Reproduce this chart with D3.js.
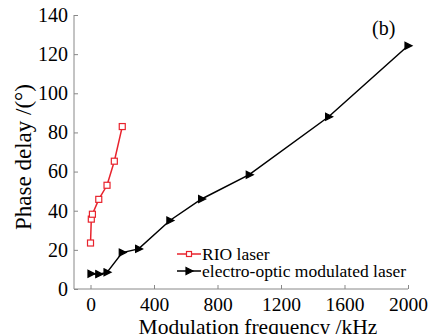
<!DOCTYPE html>
<meta charset="utf-8">
<script src="https://d3js.org/d3.v7.min.js"></script>
<style>
  body { margin: 0; background: #fff; }
  svg text { font-family: "Liberation Serif", "DejaVu Serif", serif !important; fill: #000; }
</style>
<div id="my_dataviz"></div>
<script>

// RIO laser (red squares)
var rioFreq  = [0, 5, 12, 52, 104, 150, 200];
var rioPhase = [23.5, 35.7, 38.2, 45.8, 53, 65.3, 83];

// electro-optic modulated laser (black triangles)
var eoFreq  = [3, 52, 104, 200, 303, 500, 700, 1000, 1500, 2000];
var eoPhase = [7.8, 7.6, 8.5, 18.6, 20.5, 35, 46, 58.4, 88, 124.3];

var xTicks = [0, 400, 800, 1200, 1600, 2000];
var yTicks = [0, 20, 40, 60, 80, 100, 120, 140];

var margin = {top: 15, right: 25, bottom: 45, left: 74},
    width = 435 - margin.left - margin.right,
    height = 334 - margin.top - margin.bottom;

var serif = '"Liberation Serif", "DejaVu Serif", serif';

var svg = d3.select("#my_dataviz")
  .append("svg")
    .attr("width", 435)
    .attr("height", 334)
  .append("g")
    .attr("transform", "translate(" + margin.left + "," + margin.top + ")");

var x = d3.scaleLinear()
  .domain([-104, 2000])
  .range([0, 334]);

var y = d3.scaleLinear()
  .domain([0, 140])
  .range([height, 0]);

// X axis, ticks pointing inward
var xAxis = svg.append("g")
  .attr("transform", "translate(0," + height + ")")
  .call(d3.axisBottom(x).tickValues(xTicks).tickSize(-4).tickPadding(8).tickFormat(d3.format("d")));
xAxis.attr("font-family", serif);
xAxis.select(".domain").attr("stroke", "#888").attr("d", "M0,0H" + x(2000));
xAxis.selectAll(".tick line").attr("stroke", "#888");
xAxis.selectAll("text").style("font-size", "19.5px").style("font-family", serif).attr("dy", "0.72em");

// Y axis
var yAxis = svg.append("g")
  .call(d3.axisLeft(y).tickValues(yTicks).tickSize(-4).tickPadding(6));
yAxis.attr("font-family", serif);
yAxis.select(".domain").attr("stroke", "#888").attr("d", "M0," + y(140) + "V" + height);
yAxis.selectAll(".tick line").attr("stroke", "#888");
yAxis.selectAll("text").style("font-size", "20px").style("font-family", serif);

// axis labels
svg.append("text")
  .attr("text-anchor", "middle")
  .attr("x", 184)
  .attr("y", height + 45)
  .style("font-family", serif)
  .style("font-size", "21.5px")
  .text("Modulation frequency /kHz");

svg.append("text")
  .attr("text-anchor", "middle")
  .attr("transform", "rotate(-90)")
  .attr("x", -142)
  .attr("y", -43)
  .style("font-family", serif)
  .style("font-size", "23px")
  .text("Phase delay /(\u00B0)");

svg.append("text")
  .attr("x", 298)
  .attr("y", 20)
  .style("font-family", serif)
  .style("font-size", "20px")
  .text("(b)");

var line = d3.line()
  .x(function(d) { return x(d[0]); })
  .y(function(d) { return y(d[1]); });

var rio = rioFreq.map(function(f, i) { return [f, rioPhase[i]]; });
var eo = eoFreq.map(function(f, i) { return [f, eoPhase[i]]; });

svg.append("path")
  .datum(eo)
  .attr("fill", "none")
  .attr("stroke", "#000")
  .attr("stroke-width", 1.5)
  .attr("d", line);

svg.append("path")
  .datum(rio)
  .attr("fill", "none")
  .attr("stroke", "#e8232d")
  .attr("stroke-width", 1.5)
  .attr("d", line);

var tri = "M-3,-3.5L4,0L-3,3.5Z";

svg.append("g")
  .selectAll("path")
  .data(eo)
  .enter()
  .append("path")
    .attr("d", tri)
    .attr("transform", function(d) { return "translate(" + x(d[0]) + "," + y(d[1]) + ")"; })
    .attr("fill", "#000")
    .attr("stroke", "#000")
    .attr("stroke-width", 1.2);

svg.append("g")
  .selectAll("rect")
  .data(rio)
  .enter()
  .append("rect")
    .attr("x", function(d) { return x(d[0]) - 3; })
    .attr("y", function(d) { return y(d[1]) - 3; })
    .attr("width", 6)
    .attr("height", 6)
    .attr("fill", "#fff")
    .attr("stroke", "#e8232d")
    .attr("stroke-width", 1.2);

// legend
var legend = svg.append("g").attr("transform", "translate(103,239)");
legend.append("line").attr("x1", 0).attr("x2", 24).attr("y1", 0).attr("y2", 0)
  .attr("stroke", "#e8232d").attr("stroke-width", 1.5);
legend.append("rect").attr("x", 9.5).attr("y", -2.5).attr("width", 5).attr("height", 5)
  .attr("fill", "#fff").attr("stroke", "#e8232d").attr("stroke-width", 1.2);
legend.append("text").attr("x", 25).attr("y", 0).attr("dy", "0.33em")
  .style("font-family", serif)
  .style("font-size", "17.5px").text("RIO laser");

legend.append("line").attr("x1", 0).attr("x2", 24).attr("y1", 17).attr("y2", 17)
  .attr("stroke", "#000").attr("stroke-width", 1.5);
legend.append("path").attr("d", tri).attr("transform", "translate(12,17)")
  .attr("fill", "#000").attr("stroke", "#000").attr("stroke-width", 1.2);
legend.append("text").attr("x", 25).attr("y", 17).attr("dy", "0.33em")
  .style("font-family", serif)
  .style("font-size", "17.5px").text("electro-optic modulated laser");

</script>
